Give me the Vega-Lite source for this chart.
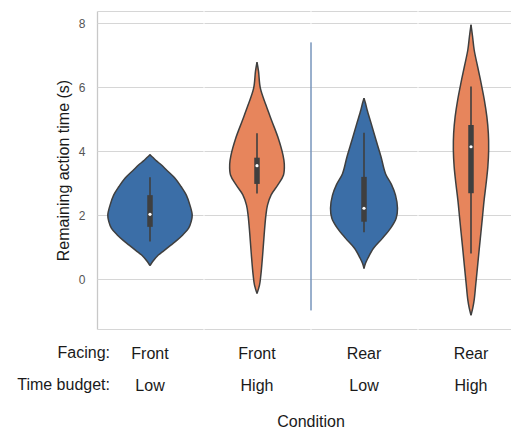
{
  "$schema": "https://vega.github.io/schema/vega-lite/v6.json",
  "autosize": {"type": "pad"},
  "padding": {"left": 17, "top": 11, "right": 0, "bottom": 0},
  "background": "white",
  "title": {
    "text": ["Facing:", "Time budget:"],
    "orient": "bottom",
    "anchor": "start",
    "frame": "group",
    "align": "right",
    "dx": 13,
    "offset": -85,
    "fontSize": 16,
    "fontWeight": "normal",
    "font": "Liberation Sans",
    "lineHeight": 32,
    "color": "#1a1a1a"
  },
  "data": {
    "values": [
      {"cond": "Front|Low", "budget": "Low", "kind": "violin", "y": 0.43, "density": 0},
      {"cond": "Front|Low", "budget": "Low", "kind": "violin", "y": 0.55, "density": 0.05},
      {"cond": "Front|Low", "budget": "Low", "kind": "violin", "y": 0.76, "density": 0.167},
      {"cond": "Front|Low", "budget": "Low", "kind": "violin", "y": 0.9, "density": 0.28},
      {"cond": "Front|Low", "budget": "Low", "kind": "violin", "y": 1.07, "density": 0.417},
      {"cond": "Front|Low", "budget": "Low", "kind": "violin", "y": 1.21, "density": 0.53},
      {"cond": "Front|Low", "budget": "Low", "kind": "violin", "y": 1.38, "density": 0.65},
      {"cond": "Front|Low", "budget": "Low", "kind": "violin", "y": 1.59, "density": 0.77},
      {"cond": "Front|Low", "budget": "Low", "kind": "violin", "y": 1.81, "density": 0.825},
      {"cond": "Front|Low", "budget": "Low", "kind": "violin", "y": 2.01, "density": 0.844},
      {"cond": "Front|Low", "budget": "Low", "kind": "violin", "y": 2.31, "density": 0.8},
      {"cond": "Front|Low", "budget": "Low", "kind": "violin", "y": 2.63, "density": 0.727},
      {"cond": "Front|Low", "budget": "Low", "kind": "violin", "y": 2.9, "density": 0.62},
      {"cond": "Front|Low", "budget": "Low", "kind": "violin", "y": 3.16, "density": 0.5},
      {"cond": "Front|Low", "budget": "Low", "kind": "violin", "y": 3.4, "density": 0.34},
      {"cond": "Front|Low", "budget": "Low", "kind": "violin", "y": 3.57, "density": 0.23},
      {"cond": "Front|Low", "budget": "Low", "kind": "violin", "y": 3.7, "density": 0.13},
      {"cond": "Front|Low", "budget": "Low", "kind": "violin", "y": 3.79, "density": 0.07},
      {"cond": "Front|Low", "budget": "Low", "kind": "violin", "y": 3.86, "density": 0.02},
      {"cond": "Front|Low", "budget": "Low", "kind": "violin", "y": 3.9, "density": 0},

      {"cond": "Front|High", "budget": "High", "kind": "violin", "y": -0.44, "density": 0},
      {"cond": "Front|High", "budget": "High", "kind": "violin", "y": -0.18, "density": 0.05},
      {"cond": "Front|High", "budget": "High", "kind": "violin", "y": 0.13, "density": 0.077},
      {"cond": "Front|High", "budget": "High", "kind": "violin", "y": 0.77, "density": 0.113},
      {"cond": "Front|High", "budget": "High", "kind": "violin", "y": 1.39, "density": 0.143},
      {"cond": "Front|High", "budget": "High", "kind": "violin", "y": 1.99, "density": 0.177},
      {"cond": "Front|High", "budget": "High", "kind": "violin", "y": 2.32, "density": 0.21},
      {"cond": "Front|High", "budget": "High", "kind": "violin", "y": 2.64, "density": 0.283},
      {"cond": "Front|High", "budget": "High", "kind": "violin", "y": 2.95, "density": 0.417},
      {"cond": "Front|High", "budget": "High", "kind": "violin", "y": 3.26, "density": 0.53},
      {"cond": "Front|High", "budget": "High", "kind": "violin", "y": 3.6, "density": 0.546},
      {"cond": "Front|High", "budget": "High", "kind": "violin", "y": 3.88, "density": 0.52},
      {"cond": "Front|High", "budget": "High", "kind": "violin", "y": 4.4, "density": 0.427},
      {"cond": "Front|High", "budget": "High", "kind": "violin", "y": 4.93, "density": 0.3},
      {"cond": "Front|High", "budget": "High", "kind": "violin", "y": 5.45, "density": 0.177},
      {"cond": "Front|High", "budget": "High", "kind": "violin", "y": 5.97, "density": 0.067},
      {"cond": "Front|High", "budget": "High", "kind": "violin", "y": 6.5, "density": 0.03},
      {"cond": "Front|High", "budget": "High", "kind": "violin", "y": 6.78, "density": 0},

      {"cond": "Rear|Low", "budget": "Low", "kind": "violin", "y": 0.34, "density": 0},
      {"cond": "Rear|Low", "budget": "Low", "kind": "violin", "y": 0.5, "density": 0.03},
      {"cond": "Rear|Low", "budget": "Low", "kind": "violin", "y": 0.66, "density": 0.077},
      {"cond": "Rear|Low", "budget": "Low", "kind": "violin", "y": 0.97, "density": 0.19},
      {"cond": "Rear|Low", "budget": "Low", "kind": "violin", "y": 1.28, "density": 0.367},
      {"cond": "Rear|Low", "budget": "Low", "kind": "violin", "y": 1.6, "density": 0.533},
      {"cond": "Rear|Low", "budget": "Low", "kind": "violin", "y": 1.91, "density": 0.643},
      {"cond": "Rear|Low", "budget": "Low", "kind": "violin", "y": 2.22, "density": 0.67},
      {"cond": "Rear|Low", "budget": "Low", "kind": "violin", "y": 2.63, "density": 0.63},
      {"cond": "Rear|Low", "budget": "Low", "kind": "violin", "y": 2.96, "density": 0.55},
      {"cond": "Rear|Low", "budget": "Low", "kind": "violin", "y": 3.3, "density": 0.43},
      {"cond": "Rear|Low", "budget": "Low", "kind": "violin", "y": 3.83, "density": 0.34},
      {"cond": "Rear|Low", "budget": "Low", "kind": "violin", "y": 4.35, "density": 0.24},
      {"cond": "Rear|Low", "budget": "Low", "kind": "violin", "y": 4.87, "density": 0.143},
      {"cond": "Rear|Low", "budget": "Low", "kind": "violin", "y": 5.29, "density": 0.063},
      {"cond": "Rear|Low", "budget": "Low", "kind": "violin", "y": 5.5, "density": 0.03},
      {"cond": "Rear|Low", "budget": "Low", "kind": "violin", "y": 5.66, "density": 0},

      {"cond": "Rear|High", "budget": "High", "kind": "violin", "y": -1.12, "density": 0},
      {"cond": "Rear|High", "budget": "High", "kind": "violin", "y": -0.9, "density": 0.035},
      {"cond": "Rear|High", "budget": "High", "kind": "violin", "y": -0.65, "density": 0.063},
      {"cond": "Rear|High", "budget": "High", "kind": "violin", "y": -0.13, "density": 0.097},
      {"cond": "Rear|High", "budget": "High", "kind": "violin", "y": 0.39, "density": 0.13},
      {"cond": "Rear|High", "budget": "High", "kind": "violin", "y": 0.92, "density": 0.163},
      {"cond": "Rear|High", "budget": "High", "kind": "violin", "y": 1.44, "density": 0.197},
      {"cond": "Rear|High", "budget": "High", "kind": "violin", "y": 1.96, "density": 0.23},
      {"cond": "Rear|High", "budget": "High", "kind": "violin", "y": 2.48, "density": 0.263},
      {"cond": "Rear|High", "budget": "High", "kind": "violin", "y": 3.0, "density": 0.303},
      {"cond": "Rear|High", "budget": "High", "kind": "violin", "y": 3.52, "density": 0.337},
      {"cond": "Rear|High", "budget": "High", "kind": "violin", "y": 4.04, "density": 0.353},
      {"cond": "Rear|High", "budget": "High", "kind": "violin", "y": 4.56, "density": 0.347},
      {"cond": "Rear|High", "budget": "High", "kind": "violin", "y": 5.08, "density": 0.317},
      {"cond": "Rear|High", "budget": "High", "kind": "violin", "y": 5.6, "density": 0.267},
      {"cond": "Rear|High", "budget": "High", "kind": "violin", "y": 6.12, "density": 0.203},
      {"cond": "Rear|High", "budget": "High", "kind": "violin", "y": 6.64, "density": 0.133},
      {"cond": "Rear|High", "budget": "High", "kind": "violin", "y": 7.17, "density": 0.063},
      {"cond": "Rear|High", "budget": "High", "kind": "violin", "y": 7.6, "density": 0.03},
      {"cond": "Rear|High", "budget": "High", "kind": "violin", "y": 7.95, "density": 0},

      {"cond": "Front|Low", "budget": "Low", "kind": "box", "lo": 1.18, "q1": 1.64, "med": 2.03, "q3": 2.63, "hi": 3.19},
      {"cond": "Front|High", "budget": "High", "kind": "box", "lo": 2.68, "q1": 2.98, "med": 3.55, "q3": 3.8, "hi": 4.56},
      {"cond": "Rear|Low", "budget": "Low", "kind": "box", "lo": 1.47, "q1": 1.8, "med": 2.22, "q3": 3.2, "hi": 4.58},
      {"cond": "Rear|High", "budget": "High", "kind": "box", "lo": 0.81, "q1": 2.69, "med": 4.14, "q3": 4.82, "hi": 6.02},

      {"cond": "Rear|Low", "budget": "Low", "kind": "sep", "lo": -0.97, "hi": 7.4}
    ]
  },
  "facet": {
    "column": {
      "field": "cond",
      "type": "nominal",
      "sort": ["Front|Low", "Front|High", "Rear|Low", "Rear|High"],
      "title": "Condition",
      "header": {
        "labelOrient": "bottom",
        "titleOrient": "bottom",
        "labelExpr": "split(datum.value, '|')",
        "labelFont": "Liberation Sans",
        "labelFontSize": 16,
        "labelColor": "#1a1a1a",
        "labelLineHeight": 32,
        "labelPadding": 17,
        "titleFont": "Liberation Sans",
        "titleFontSize": 16,
        "titleFontWeight": "normal",
        "titleColor": "#1a1a1a",
        "titlePadding": 10
      }
    }
  },
  "spacing": 0,
  "spec": {
    "width": 106,
    "height": 318,
    "encoding": {
      "y": {
        "type": "quantitative",
        "scale": {"domain": [-1.55, 8.38], "nice": false, "zero": false},
        "axis": {
          "values": [-1.55, 0, 2, 4, 6, 8, 8.38],
          "labelExpr": "datum.value < -1 || datum.value > 8.1 ? '' : datum.label",
          "title": "Remaining action time (s)",
          "titleFont": "Liberation Sans",
          "titleFontSize": 16,
          "titleFontWeight": "normal",
          "titleColor": "#1a1a1a",
          "titlePadding": 7,
          "labelFont": "Liberation Sans",
          "labelFontSize": 12,
          "labelColor": "#555555",
          "labelPadding": 12,
          "ticks": false,
          "domain": true,
          "domainColor": "#c8c8c8",
          "domainWidth": 1.3,
          "grid": true,
          "gridColor": "#d6d6d6",
          "gridWidth": 1.2
        }
      }
    },
    "layer": [
      {
        "transform": [{"filter": "datum.kind === 'violin'"}],
        "mark": {"type": "area", "orient": "horizontal", "interpolate": "catmull-rom", "fillOpacity": 1},
        "encoding": {
          "y": {"field": "y", "type": "quantitative"},
          "x": {"field": "density", "type": "quantitative", "stack": null, "impute": null,
                "scale": {"domain": [-1.06, 1.06], "nice": false}, "axis": null},
          "color": {"field": "budget", "type": "nominal",
                    "scale": {"domain": ["Low", "High"], "range": ["#3b6ea7", "#e7855c"]}, "legend": null}
        }
      },
      {
        "transform": [{"filter": "datum.kind === 'violin'"}],
        "mark": {"type": "area", "orient": "horizontal", "interpolate": "catmull-rom", "fillOpacity": 1},
        "encoding": {
          "y": {"field": "y", "type": "quantitative"},
          "x": {"field": "density", "type": "quantitative", "stack": null, "impute": null,
                "scale": {"domain": [-1.06, 1.06], "nice": false, "reverse": true}, "axis": null},
          "color": {"field": "budget", "type": "nominal",
                    "scale": {"domain": ["Low", "High"], "range": ["#3b6ea7", "#e7855c"]}, "legend": null}
        }
      },
      {
        "transform": [{"filter": "datum.kind === 'violin'"}],
        "mark": {"type": "line", "interpolate": "catmull-rom", "color": "#3f3f3f", "strokeWidth": 1.5},
        "encoding": {
          "y": {"field": "y", "type": "quantitative"},
          "x": {"field": "density", "type": "quantitative", "impute": null,
                "scale": {"domain": [-1.06, 1.06], "nice": false}, "axis": null},
          "order": {"field": "y", "type": "quantitative"}
        }
      },
      {
        "transform": [{"filter": "datum.kind === 'violin'"}],
        "mark": {"type": "line", "interpolate": "catmull-rom", "color": "#3f3f3f", "strokeWidth": 1.5},
        "encoding": {
          "y": {"field": "y", "type": "quantitative"},
          "x": {"field": "density", "type": "quantitative", "impute": null,
                "scale": {"domain": [-1.06, 1.06], "nice": false, "reverse": true}, "axis": null},
          "order": {"field": "y", "type": "quantitative"}
        }
      },
      {
        "transform": [{"filter": "datum.kind === 'box'"}],
        "mark": {"type": "rule", "color": "#3f3f3f", "strokeWidth": 1.6},
        "encoding": {
          "x": {"datum": 0, "scale": {"domain": [-1.06, 1.06], "nice": false}, "axis": null},
          "y": {"field": "lo", "type": "quantitative"},
          "y2": {"field": "hi"}
        }
      },
      {
        "transform": [{"filter": "datum.kind === 'box'"}],
        "mark": {"type": "rule", "color": "#3f3f3f", "strokeWidth": 5.5, "strokeCap": "butt"},
        "encoding": {
          "x": {"datum": 0, "scale": {"domain": [-1.06, 1.06], "nice": false}, "axis": null},
          "y": {"field": "q1", "type": "quantitative"},
          "y2": {"field": "q3"}
        }
      },
      {
        "transform": [{"filter": "datum.kind === 'box'"}],
        "mark": {"type": "point", "filled": true, "color": "white", "size": 10, "opacity": 1},
        "encoding": {
          "x": {"datum": 0, "scale": {"domain": [-1.06, 1.06], "nice": false}, "axis": null},
          "y": {"field": "med", "type": "quantitative"}
        }
      },
      {
        "transform": [{"filter": "datum.kind === 'sep'"}],
        "mark": {"type": "rule", "color": "#34609a", "strokeWidth": 1},
        "encoding": {
          "x": {"datum": -1.06, "scale": {"domain": [-1.06, 1.06], "nice": false}, "axis": null},
          "y": {"field": "lo", "type": "quantitative"},
          "y2": {"field": "hi"}
        }
      }
    ],
    "resolve": {"scale": {"x": "independent"}}
  },
  "config": {
    "view": {"stroke": null},
    "font": "Liberation Sans",
    "axis": {"labelColor": "#555555"}
  }
}
